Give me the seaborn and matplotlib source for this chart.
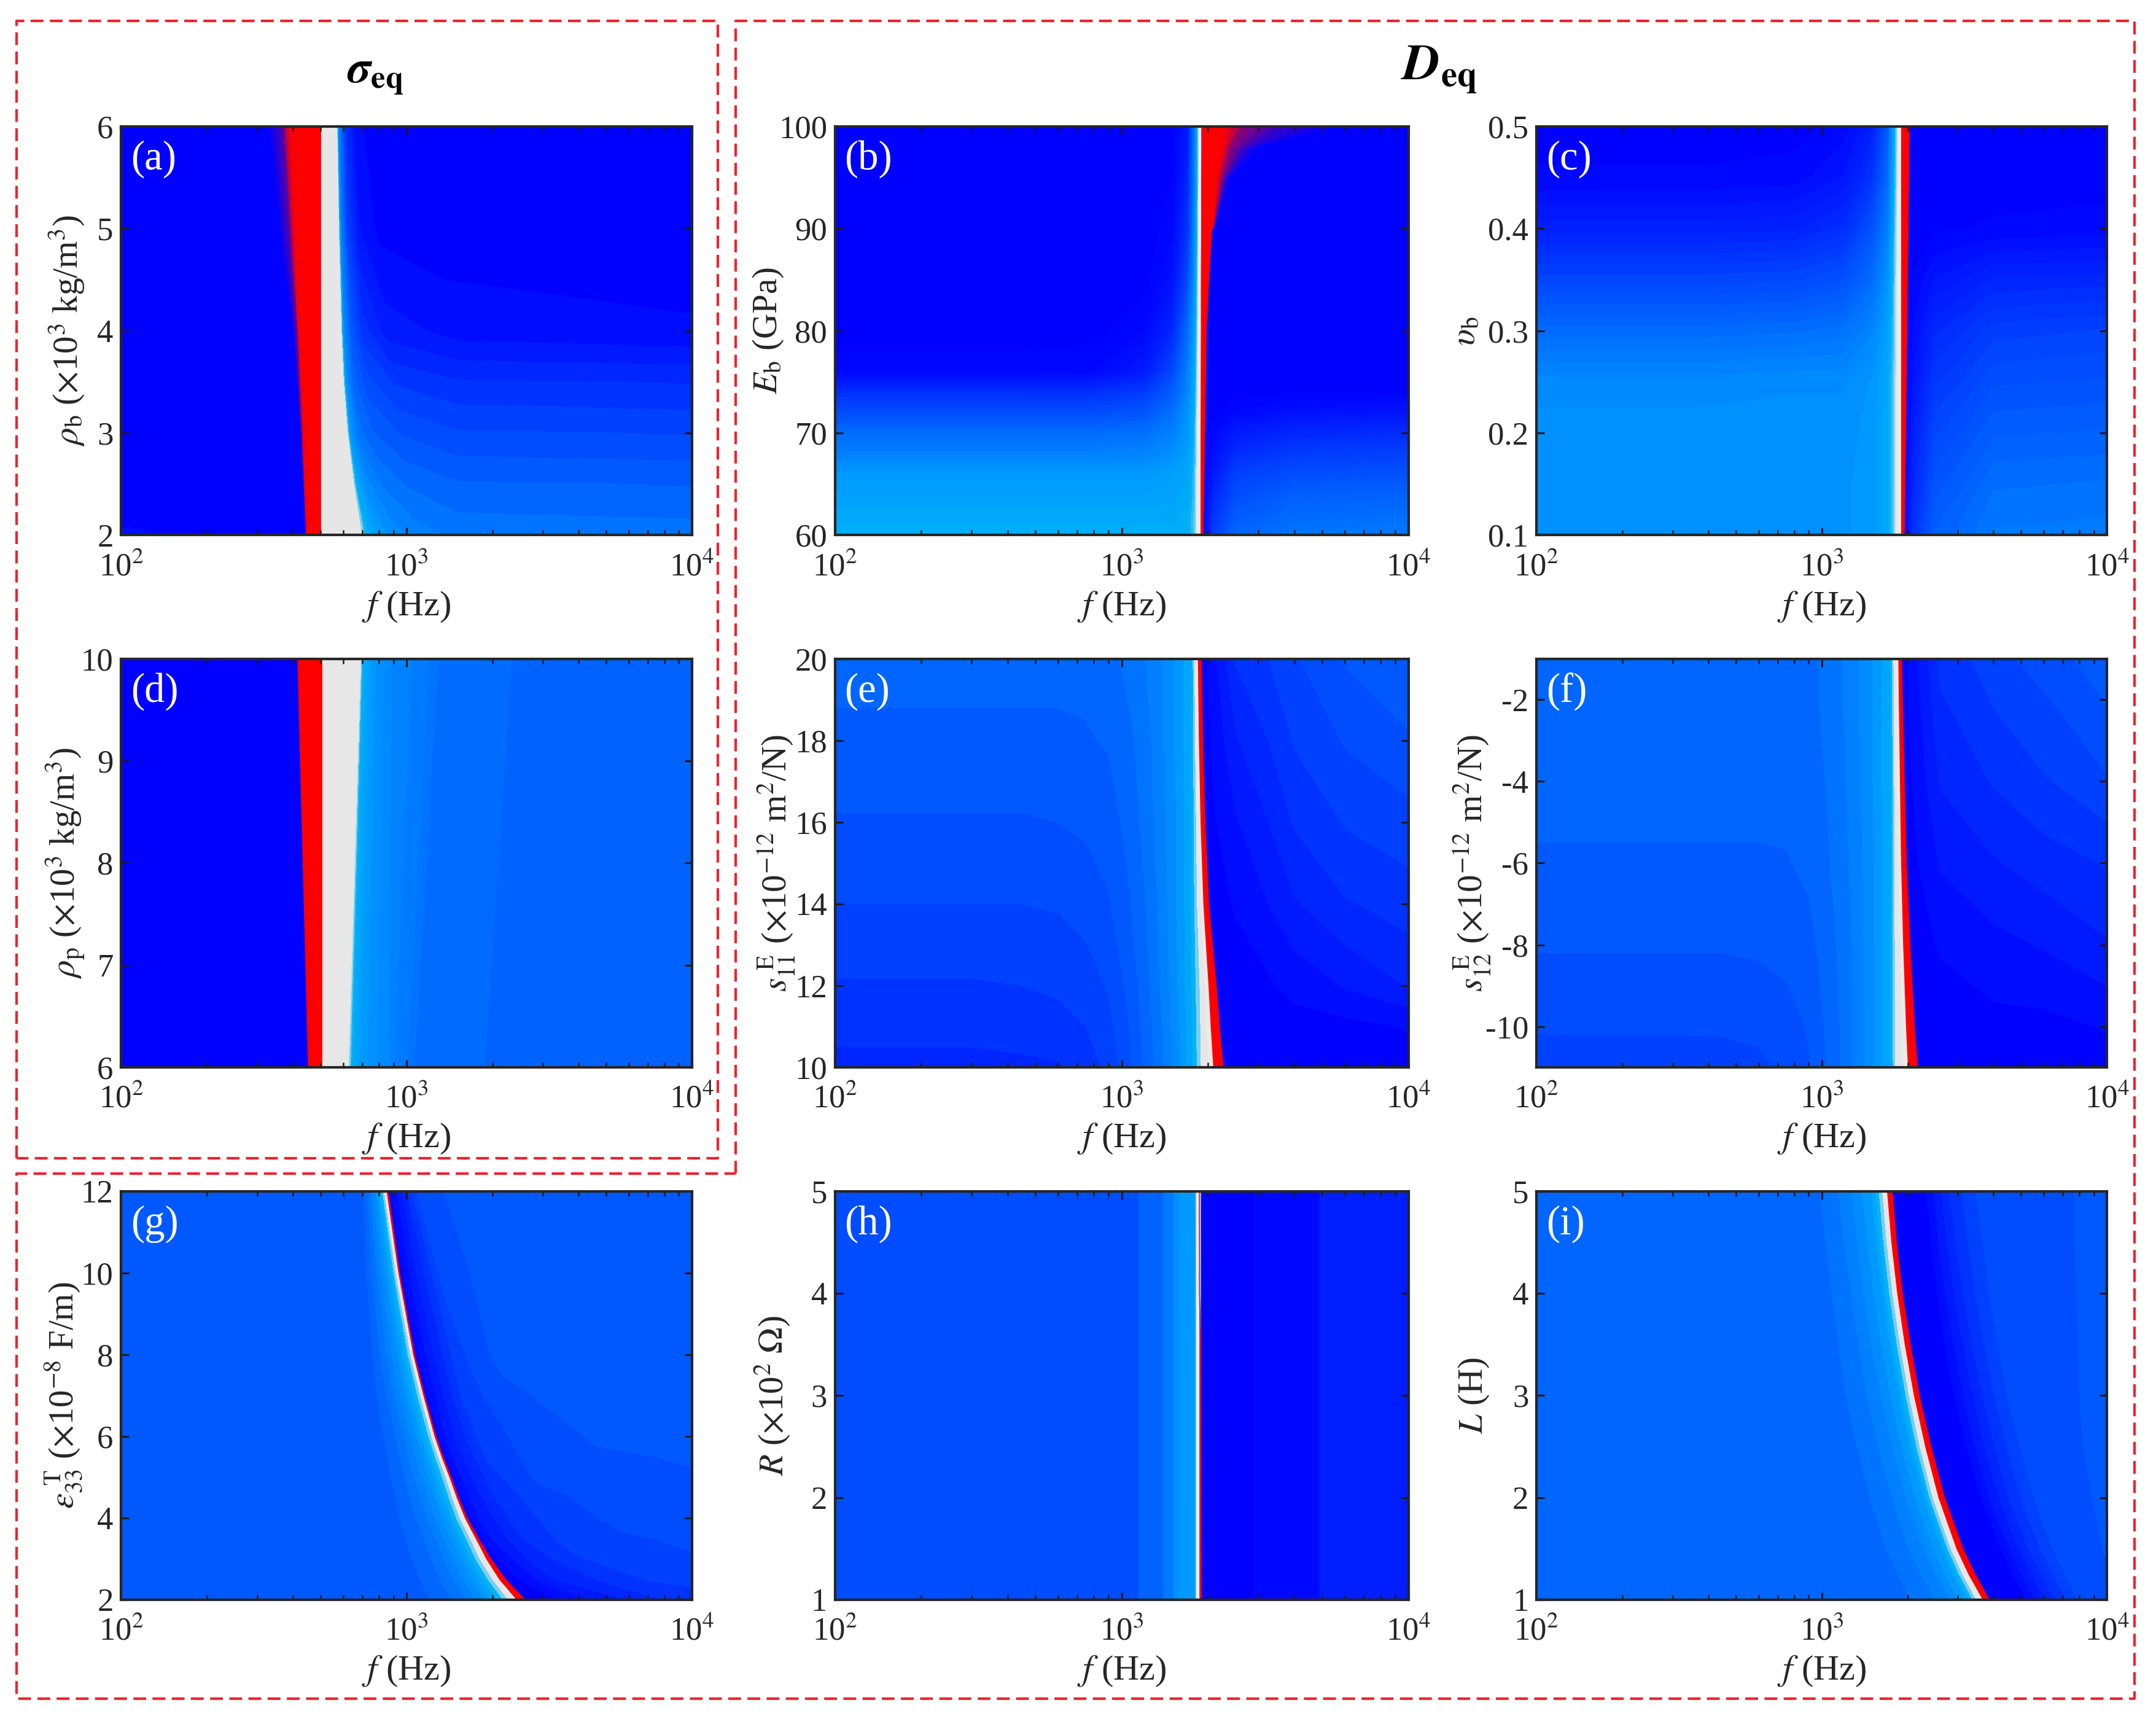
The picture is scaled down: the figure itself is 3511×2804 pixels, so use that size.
#importing necessary libraries to use within the code
import numpy as np
import matplotlib
matplotlib.use("Agg")
import matplotlib.pyplot as plt
from matplotlib.colors import LinearSegmentedColormap
from matplotlib.lines import Line2D
import seaborn as sns

#values: y levels, frequency nodes per row, colour value per node
a_y = [2, 2.5, 3, 3.5, 4, 5, 6]
a_f = [[100, 470, 480, 690, 720, 780, 900, 1100, 1500, 10000],
       [100, 470, 480, 650, 670, 720, 820, 1000, 1500, 10000],
       [100, 470, 480, 620, 635, 680, 760, 950, 1500, 10000],
       [100, 470, 480, 600, 615, 650, 720, 900, 1500, 10000],
       [100, 470, 480, 590, 603, 640, 700, 850, 1500, 10000],
       [100, 470, 480, 578, 590, 620, 680, 800, 1200, 10000],
       [100, 470, 480, 570, 580, 610, 660, 750, 1000, 10000]]
a_z = [[.03, 0, .8, .8, .7, .62, .55, .5, .46, .45],
       [0, 0, .8, .8, .66, .55, .47, .42, .38, .37],
       [0, 0, .8, .8, .6, .45, .38, .32, .28, .27],
       [0, 0, .8, .8, .58, .4, .3, .22, .18, .17],
       [0, 0, .8, .8, .55, .35, .2, .1, .05, .03],
       [0, 0, .8, .8, .5, .25, .08, .01, 0, 0],
       [0, 0, .8, .8, .5, .2, .05, 0, 0, 0]]
a_red_y = [2, 3, 4, 5, 6]
a_red_left = [447, 438, 426, 414, 400]
a_red_right = [500, 500, 500, 500, 500]
a_fade_y = [2, 3, 4, 5, 6]
a_fade_f = [[445, 446, 447], [425, 433, 438], [400, 416, 426], [358, 392, 414], [328, 372, 400]]
a_fade_alpha = [0, .3, 1]

b_y = [60, 62, 64, 66, 68, 70, 72, 74, 76, 80, 85, 90, 100]
b_f = [100, 400, 800, 1200, 1500, 1700, 1800, 1880, 1920, 2100, 2500, 4000, 10000]
b_z = [[.68, .68, .68, .68, .68, .69, .74, .9, 0, .25, .4, .46, .48],
       [.66, .66, .66, .66, .66, .68, .74, .9, 0, .2, .35, .41, .43],
       [.63, .63, .63, .63, .64, .66, .73, .9, 0, .15, .3, .37, .38],
       [.6, .6, .6, .6, .62, .65, .73, .9, 0, .1, .25, .3, .32],
       [.5, .5, .5, .51, .56, .62, .72, .9, 0, .06, .17, .23, .25],
       [.42, .42, .42, .44, .5, .6, .71, .9, 0, .03, .1, .15, .17],
       [.3, .3, .3, .33, .44, .57, .7, .9, 0, 0, .03, .06, .08],
       [.18, .18, .18, .23, .36, .53, .68, .9, 0, 0, 0, .01, .01],
       [.02, .02, .03, .1, .28, .5, .67, .9, 0, 0, 0, 0, 0],
       [0, 0, 0, .03, .15, .42, .64, .9, 0, 0, 0, 0, 0],
       [0, 0, 0, 0, .06, .3, .6, .9, 0, 0, 0, 0, 0],
       [0, 0, 0, 0, .02, .2, .55, .9, 0, 0, 0, 0, 0],
       [0, 0, 0, 0, 0, .1, .5, .9, 0, 0, 0, 0, 0]]
b_red_y = [60, 70, 80, 85, 90, 95, 98, 100]
b_red_left = [1880, 1880, 1885, 1885, 1890, 1890, 1895, 1895]
b_red_right = [1920, 1945, 1970, 2010, 2060, 2120, 2190, 2230]
b_fade_y = [90, 95, 98, 100]
b_fade_f = [[2060, 2070, 2085, 2100], [2120, 2190, 2280, 2387], [2190, 2350, 2650, 2995], [2230, 2600, 3500, 5690]]
b_fade_alpha = [1, .5, .2, 0]

c_y = [.1, .15, .2, .25, .3, .35, .4, .45, .5]
c_f = [100, 400, 800, 1200, 1500, 1700, 1790, 1890, 1945, 2100, 2500, 4000, 10000]
c_z = [[.58, .58, .58, .58, .6, .66, .74, .9, 0, .2, .38, .47, .48],
       [.58, .58, .58, .58, .6, .66, .74, .9, 0, .15, .33, .43, .44],
       [.57, .57, .57, .57, .6, .66, .74, .9, 0, .12, .28, .37, .38],
       [.54, .54, .55, .55, .59, .66, .74, .9, 0, .08, .22, .31, .32],
       [.42, .42, .43, .45, .52, .63, .73, .9, 0, .05, .16, .24, .26],
       [.27, .27, .28, .32, .42, .58, .72, .9, 0, .02, .08, .14, .15],
       [.12, .12, .13, .18, .32, .5, .7, .9, 0, 0, .01, .02, .03],
       [.02, .02, .03, .08, .2, .42, .67, .9, 0, 0, 0, 0, 0],
       [0, 0, 0, .03, .12, .35, .65, .9, 0, 0, 0, 0, 0]]
c_red_y = [.1, .5]
c_red_left = [1893, 1893]
c_red_right = [1945, 2023]

d_y = [6, 10]
d_f = [[100, 460, 480, 624, 640, 655, 700, 780, 877, 890, 1055, 1070, 1871, 1890, 10000],
       [100, 460, 480, 690, 700, 715, 760, 815, 900, 1017, 1280, 1300, 2336, 2360, 10000]]
d_z = [[0, 0, .8, .8, .7, .66, .6, .56, .52, .5, .45, .43, .42, .38, .38],
       [0, 0, .8, .8, .7, .66, .6, .56, .52, .5, .45, .43, .42, .38, .38]]
d_red_y = [6, 10]
d_red_left = [451, 414]
d_red_right = [504, 504]

e_y = [10, 11, 12, 14, 16, 18, 20]
e_f = [[100, 300, 450, 600, 750, 900, 1050, 1200, 1500, 1750, 1900, 2083, 2259, 2500, 4000, 6000, 10000],
       [100, 300, 450, 600, 750, 900, 1050, 1200, 1500, 1750, 1890, 2040, 2190, 2500, 4000, 6000, 10000],
       [100, 300, 450, 600, 750, 900, 1050, 1200, 1500, 1750, 1880, 2004, 2136, 2500, 4000, 6000, 10000],
       [100, 300, 450, 600, 750, 900, 1050, 1200, 1500, 1750, 1840, 1923, 2009, 2500, 4000, 6000, 10000],
       [100, 300, 450, 600, 750, 900, 1050, 1200, 1500, 1750, 1825, 1880, 1950, 2500, 4000, 6000, 10000],
       [100, 300, 450, 600, 750, 900, 1050, 1200, 1500, 1750, 1810, 1855, 1915, 2500, 4000, 6000, 10000],
       [100, 300, 450, 600, 750, 900, 1050, 1200, 1500, 1750, 1800, 1840, 1893, 2500, 4000, 6000, 10000]]
e_z = [[.16, .16, .165, .17, .195, .24, .31, .38, .52, .66, .78, .85, 0, 0, 0, 0, 0],
       [.19, .19, .195, .205, .225, .26, .32, .39, .53, .66, .78, .85, 0, 0, .005, .01, .03],
       [.22, .22, .225, .235, .25, .28, .335, .4, .54, .67, .78, .85, 0, 0, .04, .08, .13],
       [.275, .275, .275, .28, .295, .32, .365, .42, .55, .67, .78, .85, 0, .03, .12, .17, .2],
       [.32, .32, .32, .325, .335, .35, .39, .44, .55, .67, .78, .85, 0, .07, .18, .23, .255],
       [.365, .365, .365, .365, .37, .38, .41, .45, .56, .67, .78, .85, 0, .12, .23, .28, .32],
       [.39, .39, .39, .39, .39, .41, .44, .47, .56, .67, .78, .85, 0, .18, .27, .33, .36]]
e_red_y = [10, 11, 12, 14, 16, 18, 20]
e_red_left = [2083, 2040, 2004, 1923, 1880, 1855, 1840]
e_red_right = [2259, 2190, 2136, 2009, 1950, 1915, 1893]

f_y = [-11, -10, -8, -6, -4, -2, -1]
f_f = [[100, 300, 450, 600, 750, 900, 1050, 1200, 1500, 1750, 1817, 2000, 2163, 2600, 4000, 6000, 10000],
       [100, 300, 450, 600, 750, 900, 1050, 1200, 1500, 1750, 1815, 1970, 2110, 2600, 4000, 6000, 10000],
       [100, 300, 450, 600, 750, 900, 1050, 1200, 1500, 1750, 1810, 1925, 2035, 2600, 4000, 6000, 10000],
       [100, 300, 450, 600, 750, 900, 1050, 1200, 1500, 1750, 1805, 1893, 1977, 2600, 4000, 6000, 10000],
       [100, 300, 450, 600, 750, 900, 1050, 1200, 1500, 1750, 1800, 1875, 1945, 2600, 4000, 6000, 10000],
       [100, 300, 450, 600, 750, 900, 1050, 1200, 1500, 1750, 1795, 1858, 1915, 2600, 4000, 6000, 10000],
       [100, 300, 450, 600, 750, 900, 1050, 1200, 1500, 1750, 1790, 1851, 1901, 2600, 4000, 6000, 10000]]
f_z = [[.255, .255, .26, .265, .285, .32, .38, .44, .56, .68, .78, .85, 0, 0, 0, 0, 0],
       [.28, .28, .28, .285, .3, .33, .385, .44, .56, .68, .78, .85, 0, 0, .01, .01, .03],
       [.33, .33, .33, .335, .345, .36, .4, .45, .56, .68, .78, .85, 0, .03, .06, .08, .12],
       [.37, .37, .37, .37, .372, .385, .42, .46, .56, .68, .78, .85, 0, .08, .12, .15, .18],
       [.39, .39, .39, .39, .39, .395, .43, .47, .57, .68, .78, .85, 0, .13, .18, .22, .27],
       [.4, .4, .4, .4, .4, .41, .44, .48, .57, .68, .78, .85, 0, .17, .23, .27, .33],
       [.4, .4, .4, .4, .4, .41, .44, .48, .57, .68, .78, .85, 0, .19, .26, .3, .36]]
f_red_y = [-11, -10, -8, -6, -4, -2, -1]
f_red_left = [2000, 1970, 1925, 1893, 1875, 1858, 1851]
f_red_right = [2163, 2110, 2035, 1977, 1945, 1915, 1901]

g_y = [2, 2.5, 3, 3.5, 4, 4.5, 5, 5.5, 6, 7, 8, 10, 12]
g_f = [[100, 1000, 1250, 1550, 1950, 2250, 2430, 2600, 3000, 4000, 6000, 8000, 10000],
       [100, 950, 1150, 1400, 1750, 1980, 2110, 2220, 2500, 3200, 5000, 7000, 10000],
       [100, 900, 1080, 1300, 1600, 1790, 1900, 1970, 2200, 2800, 4000, 6000, 10000],
       [100, 860, 1020, 1220, 1480, 1660, 1745, 1785, 2000, 2500, 3500, 6000, 10000],
       [100, 830, 970, 1140, 1380, 1530, 1600, 1630, 1800, 2300, 3200, 5500, 10000],
       [100, 810, 935, 1080, 1300, 1440, 1497, 1520, 1700, 2150, 3000, 5200, 10000],
       [100, 790, 900, 1030, 1230, 1365, 1412, 1432, 1600, 2000, 2800, 5000, 10000],
       [100, 770, 875, 990, 1170, 1288, 1325, 1343, 1500, 1900, 2700, 4700, 10000],
       [100, 750, 850, 950, 1110, 1220, 1252, 1268, 1400, 1800, 2600, 4500, 10000],
       [100, 730, 800, 880, 1020, 1115, 1144, 1157, 1300, 1600, 2300, 4000, 10000],
       [100, 720, 770, 830, 950, 1030, 1054, 1066, 1200, 1500, 2000, 3500, 10000],
       [100, 700, 730, 770, 860, 915, 935, 945, 1050, 1300, 1800, 3000, 10000],
       [100, 690, 710, 740, 790, 835, 850, 862, 950, 1100, 1500, 2500, 10000]]
g_z = [[.35, .35, .38, .45, .6, .76, .85, 0, 0, .06, .13, .18, .2],
       [.35, .35, .38, .45, .6, .76, .85, 0, .03, .12, .19, .23, .24],
       [.35, .35, .38, .45, .6, .76, .85, 0, .05, .15, .22, .26, .27],
       [.35, .35, .38, .45, .6, .76, .85, 0, .08, .17, .24, .27, .285],
       [.35, .35, .38, .45, .6, .76, .85, 0, .08, .18, .25, .29, .3],
       [.35, .35, .38, .45, .6, .76, .85, 0, .09, .2, .26, .3, .31],
       [.35, .35, .38, .45, .6, .76, .85, 0, .1, .21, .28, .31, .32],
       [.35, .35, .38, .45, .6, .76, .85, 0, .1, .23, .29, .32, .33],
       [.35, .35, .38, .45, .6, .76, .85, 0, .1, .24, .3, .33, .335],
       [.35, .35, .38, .45, .6, .76, .85, 0, .1, .25, .32, .34, .34],
       [.35, .35, .38, .45, .6, .76, .85, 0, .1, .26, .33, .34, .34],
       [.35, .35, .38, .45, .6, .76, .85, 0, .1, .28, .34, .34, .34],
       [.35, .35, .38, .45, .6, .76, .85, 0, .1, .3, .34, .34, .34]]
g_red_y = g_y
g_red_left = [2430, 2110, 1900, 1745, 1600, 1497, 1412, 1325, 1252, 1144, 1054, 935, 850]
g_red_right = [2600, 2220, 1970, 1785, 1630, 1520, 1432, 1343, 1268, 1157, 1066, 945, 862]

h_y = [1, 5]
h_f = [100, 1140, 1150, 1390, 1400, 1515, 1525, 1790, 1850, 1880, 1900, 2880, 2900, 4880, 4900, 10000]
h_z = [[.31, .31, .38, .38, .47, .47, .58, .6, .95, .95, 0, 0, .04, .04, .12, .12],
       [.31, .31, .38, .38, .47, .47, .58, .6, .95, .95, 0, 0, .04, .04, .12, .12]]
h_red_y = [1, 3.5, 4, 5]
h_red_left = [1862, 1862, 1864, 1866]
h_red_right = [1892, 1885, 1868, 1866]

i_y = [1, 1.25, 1.5, 2, 2.5, 3, 3.5, 4, 4.5, 5]
i_f = [[100, 1800, 2300, 2800, 3200, 3450, 3660, 3860, 5000, 5800, 6800, 8000, 10000],
       [100, 1620, 2080, 2480, 2860, 3090, 3260, 3440, 4500, 5200, 6100, 7200, 10000],
       [100, 1480, 1880, 2260, 2620, 2810, 2960, 3120, 4100, 4700, 5500, 6500, 10000],
       [100, 1300, 1650, 1950, 2270, 2430, 2560, 2690, 3500, 4000, 4700, 5600, 10000],
       [100, 1180, 1480, 1750, 2030, 2190, 2300, 2410, 3100, 3550, 4200, 5000, 10000],
       [100, 1080, 1350, 1600, 1860, 2010, 2100, 2195, 2800, 3250, 3800, 4500, 10000],
       [100, 1020, 1270, 1480, 1730, 1870, 1950, 2040, 2600, 3000, 3500, 4200, 10000],
       [100, 970, 1200, 1390, 1630, 1760, 1835, 1915, 2450, 2800, 3250, 3900, 10000],
       [100, 930, 1130, 1320, 1550, 1680, 1750, 1825, 2350, 2650, 3050, 3700, 10000],
       [100, 900, 1080, 1260, 1490, 1620, 1690, 1765, 2250, 2550, 2900, 3500, 10000]]
i_z = [[.4, .4, .45, .52, .62, .76, .85, 0, 0, .1, .2, .28, .31],
       [.4, .4, .45, .52, .62, .76, .85, 0, 0, .1, .2, .28, .32],
       [.4, .4, .45, .52, .62, .76, .85, 0, 0, .1, .2, .28, .33],
       [.4, .4, .45, .52, .62, .76, .85, 0, 0, .1, .2, .28, .34],
       [.4, .4, .45, .52, .62, .76, .85, 0, 0, .1, .2, .28, .35],
       [.4, .4, .45, .52, .62, .76, .85, 0, 0, .1, .2, .28, .35],
       [.4, .4, .45, .52, .62, .76, .85, 0, 0, .1, .2, .28, .35],
       [.4, .4, .45, .52, .62, .76, .85, 0, 0, .1, .2, .28, .35],
       [.4, .4, .45, .52, .62, .76, .85, 0, 0, .1, .2, .28, .35],
       [.4, .4, .45, .52, .62, .76, .85, 0, 0, .1, .2, .28, .35]]
i_red_y = i_y
i_red_left = [3660, 3260, 2960, 2560, 2300, 2100, 1950, 1835, 1750, 1690]
i_red_right = [3860, 3440, 3120, 2690, 2410, 2195, 2040, 1915, 1825, 1765]

#tick labels and axis titles
y_ticks = {"a": [2, 3, 4, 5, 6], "b": [60, 70, 80, 90, 100], "c": [0.1, 0.2, 0.3, 0.4, 0.5],
           "d": [6, 7, 8, 9, 10], "e": [10, 12, 14, 16, 18, 20], "f": [-10, -8, -6, -4, -2],
           "g": [2, 4, 6, 8, 10, 12], "h": [1, 2, 3, 4, 5], "i": [1, 2, 3, 4, 5]}
y_limits = {"a": (2, 6), "b": (60, 100), "c": (0.1, 0.5), "d": (6, 10), "e": (10, 20),
            "f": (-11, -1), "g": (2, 12), "h": (1, 5), "i": (1, 5)}
y_titles = {"a": r"$\rho_{\mathrm{b}}$ ($\times$10$^3$ kg/m$^3$)",
            "b": r"$E_{\mathrm{b}}$ (GPa)",
            "c": r"$\upsilon_{\mathrm{b}}$",
            "d": r"$\rho_{\mathrm{p}}$ ($\times$10$^3$ kg/m$^3$)",
            "e": r"$s_{11}^{\ \mathrm{E}}$ ($\times$10$^{-12}$ m$^2$/N)",
            "f": r"$s_{12}^{\ \mathrm{E}}$ ($\times$10$^{-12}$ m$^2$/N)",
            "g": r"$\epsilon_{33}^{\ \mathrm{T}}$ ($\times$10$^{-8}$ F/m)",
            "h": r"$R$ ($\times$10$^2$ $\Omega$)",
            "i": r"$L$ (H)"}

W, H = 3512, 2804
S = 3512 / 1568  #pixel numbers below were read on the 1568 wide picture
col_x = {"a": 88, "d": 88, "g": 88, "b": 607, "e": 607, "h": 607, "c": 1117, "f": 1117, "i": 1117}
col_w = {"a": 415, "d": 415, "g": 415, "b": 417, "e": 417, "h": 417, "c": 415, "f": 415, "i": 415}
row_y = {"a": 92, "b": 92, "c": 92, "d": 479, "e": 479, "f": 479, "g": 866, "h": 866, "i": 866}
label_x = {"a": 63, "b": 571, "c": 1077, "d": 63, "e": 580, "f": 1086, "g": 61, "h": 576, "i": 1084}
level_step = {"a": .05, "b": .02, "c": .03, "d": .03, "e": .05, "f": .05, "g": .05, "h": .03, "i": .05}

sns.set_theme(style="ticks")
plt.rcParams["font.family"] = ["Liberation Serif", "DejaVu Serif"]
plt.rcParams["mathtext.fontset"] = "stix"
plt.rcParams["axes.unicode_minus"] = False

#blue to cyan to grey to white, red goes on top as its own band
field_cmap = sns.blend_palette(["#0000ff", "#001aff", "#0033ff", "#004dff", "#0066ff", "#0080ff",
                                "#0099ff", "#00b2f5", "#e6e6e6", "#f0f0f0", "#ffffff"], as_cmap=True)
fade_cmap = LinearSegmentedColormap.from_list("fade", [(1, 0, 0, 0), (1, 0, 0, 1)])

panels = {"a": (a_y, a_f, a_z, a_red_y, a_red_left, a_red_right, a_fade_y, a_fade_f, a_fade_alpha),
          "b": (b_y, b_f, b_z, b_red_y, b_red_left, b_red_right, b_fade_y, b_fade_f, b_fade_alpha),
          "c": (c_y, c_f, c_z, c_red_y, c_red_left, c_red_right, None, None, None),
          "d": (d_y, d_f, d_z, d_red_y, d_red_left, d_red_right, None, None, None),
          "e": (e_y, e_f, e_z, e_red_y, e_red_left, e_red_right, None, None, None),
          "f": (f_y, f_f, f_z, f_red_y, f_red_left, f_red_right, None, None, None),
          "g": (g_y, g_f, g_z, g_red_y, g_red_left, g_red_right, None, None, None),
          "h": (h_y, h_f, h_z, h_red_y, h_red_left, h_red_right, None, None, None),
          "i": (i_y, i_f, i_z, i_red_y, i_red_left, i_red_right, None, None, None)}

fig = plt.figure(figsize=(W / 200, H / 200), dpi=200)

for name, (ys, fs, zs, red_y, red_left, red_right, fade_y, fade_f, fade_alpha) in panels.items():
    left = col_x[name] * S / W
    width = col_w[name] * S / W
    height = 297 * S / H
    bottom = 1 - (row_y[name] + 297) * S / H
    ax = fig.add_axes([left, bottom, width, height])
    ax.set_xscale("log")
    ax.set_axisbelow(False)

    #field as contour bands, rows can have their own frequency nodes
    fs = np.array(fs, dtype=float)
    if fs.ndim == 1:
        fs = np.tile(fs, (len(ys), 1))
    yy = np.tile(np.array(ys, dtype=float).reshape(-1, 1), (1, fs.shape[1]))
    step = level_step[name]
    levels = np.arange(-step / 2, 1 + step, step)
    ax.contourf(fs, yy, np.array(zs), levels=levels, cmap=field_cmap, vmin=0, vmax=1)

    #fading red beside the band in (a) and (b)
    if fade_f is not None:
        ffs = np.array(fade_f, dtype=float)
        fyy = np.tile(np.array(fade_y, dtype=float).reshape(-1, 1), (1, ffs.shape[1]))
        fa = np.tile(fade_alpha, (len(fade_y), 1))
        ax.contourf(ffs, fyy, fa, levels=np.linspace(0, 1, 24), cmap=fade_cmap)

    #resonance band
    ax.fill_betweenx(red_y, red_left, red_right, color="#ff0000", lw=0)
    sns.lineplot(x=red_right, y=red_y, orient="y", estimator=None, color="#ff0000",
                 lw=0.6, ax=ax, legend=False)

    ax.set_xlim(100, 10000)
    ax.set_ylim(*y_limits[name])
    ax.set_xticks([100, 1000, 10000])
    ax.set_xticklabels(["10$^2$", "10$^3$", "10$^4$"])
    ax.set_yticks(y_ticks[name])
    ax.set_yticklabels([str(t) for t in y_ticks[name]])
    ax.tick_params(which="major", direction="in", top=True, right=True, length=4.5, width=1.1,
                   color="#1a1a1a", labelcolor="#262626", labelsize=19, pad=4.5)
    ax.tick_params(which="minor", direction="in", top=True, right=True, length=2.8, width=0.9,
                   color="#1a1a1a")
    ax.tick_params(axis="x", which="major", pad=10)
    for spine in ax.spines.values():
        spine.set_linewidth(1.5)
        spine.set_color("#262626")
        spine.set_zorder(5)
    ax.set_xlabel("$f$ (Hz)", fontsize=21, color="#262626", labelpad=4)
    ax.set_ylabel(y_titles[name], fontsize=20.5, color="#262626")
    ax.yaxis.set_label_coords((label_x[name] - col_x[name]) / col_w[name], 0.5)
    ax.text(0.017, 0.92, "(%s)" % name, transform=ax.transAxes, color="white", fontsize=24,
            va="center", ha="left")

#headers over the two groups
fig.text(273 * S / W, 1 - 55 * S / H, r"$\mathbfit{\sigma}_{\mathbf{eq}}$", fontsize=27,
         ha="center", va="center", color="black")
fig.text(1046 * S / W, 1 - 51 * S / H, r"$\mathbfit{D}_{\mathbf{eq}}$", fontsize=30,
         ha="center", va="center", color="black")

#dashed frames around the groups
frames = [[(12, 842), (12, 15), (522, 15), (522, 842), (12, 842)],
          [(535, 853), (535, 15), (1552, 15), (1552, 1235), (12, 1235), (12, 853), (535, 853)]]
for frame in frames:
    xs = [p[0] * S / W for p in frame]
    ys = [1 - p[1] * S / H for p in frame]
    fig.add_artist(Line2D(xs, ys, color="#f0222e", lw=1.5, dashes=(5, 2.5),
                          transform=fig.transFigure))

fig.savefig("out.png", dpi=200)
